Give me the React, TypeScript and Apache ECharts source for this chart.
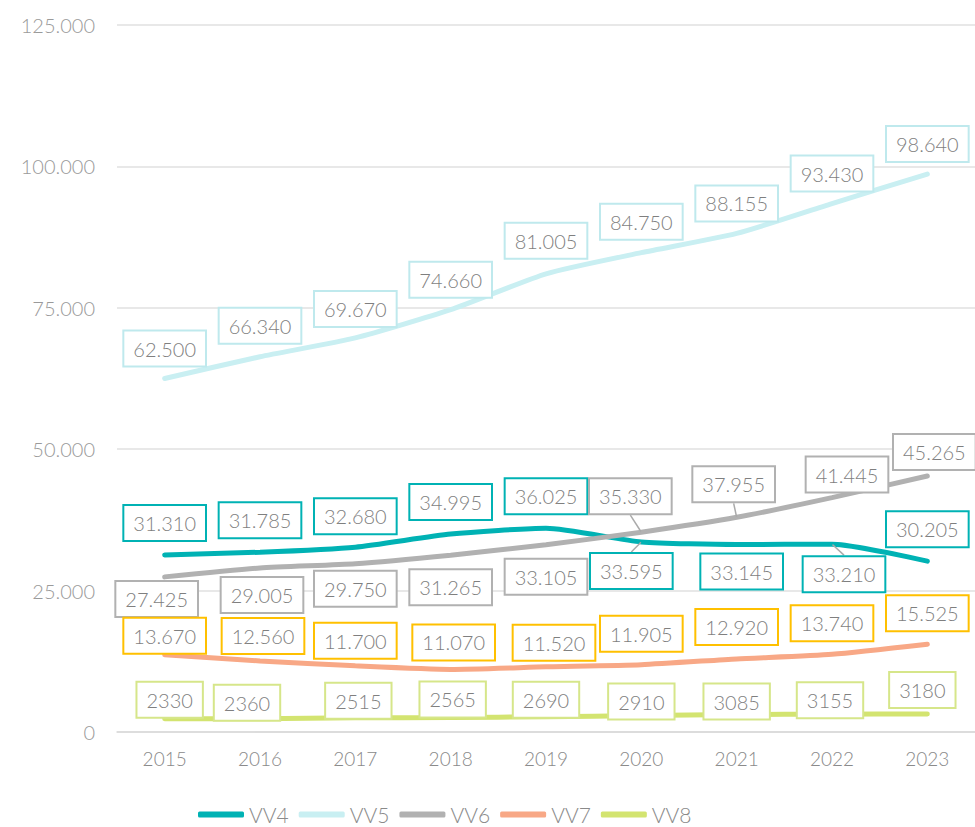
import React, { useEffect, useRef } from "react";
import * as echarts from "echarts";

const years = ["2015", "2016", "2017", "2018", "2019", "2020", "2021", "2022", "2023"];
const vv4 = [31310, 31785, 32680, 34995, 36025, 33595, 33145, 33210, 30205];
const vv5 = [62500, 66340, 69670, 74660, 81005, 84750, 88155, 93430, 98640];
const vv6 = [27425, 29005, 29750, 31265, 33105, 35330, 37955, 41445, 45265];
const vv7 = [13670, 12560, 11700, 11070, 11520, 11905, 12920, 13740, 15525];
const vv8 = [2330, 2360, 2515, 2565, 2690, 2910, 3085, 3155, 3180];
const yTicks = [0, 25000, 50000, 75000, 100000, 125000];

// label placement offsets (dx, dy) relative to each point
const off4 = [[0, -32], [0, -32], [0, -31], [0, -32], [0, -32], [-10, 29], [5, 27], [12, 30], [0, -32]];
const off5 = [[0, -30], [0, -31], [0, -29], [0, -30], [0, -33], [0, -31], [0, -30], [0, -30], [0, -30]];
const off6 = [[-8, 22], [2, 27], [0, 25], [0, 32], [0, 32], [-11, -36], [-3, -33], [15, -23], [7, -24]];
const off7 = [[0, -19], [3, -25], [0, -25], [3, -27], [8, -24], [0, -31], [0, -32], [0, -31], [0, -31]];
const off8 = [[5, -19], [-13, -16], [3, -17], [2, -18], [0, -17], [0, -14], [0, -13], [-2, -14], [-5, -24]];
const leader4 = [5, 7];
const leader6 = [5, 6];

const FONT = "Lato";

function fmt(v: number): string {
  return String(v).replace(/\B(?=(\d{3})+(?!\d))/g, ".");
}

function makeSeries(
  name: string,
  values: number[],
  color: string,
  border: string,
  offs: number[][],
  leaders: number[]
) {
  return {
    name,
    type: "line",
    smooth: 0.2,
    symbol: "circle",
    symbolSize: 1,
    showSymbol: true,
    lineStyle: { color, width: 5, cap: "round" },
    itemStyle: { color },
    data: values.map((v, i) => ({
      value: v,
      labelLine: leaders.includes(i)
        ? { show: true, lineStyle: { color: "#aaaaaa", width: 1.5 } }
        : { show: false },
    })),
    label: {
      show: true,
      position: "inside",
      formatter: (p: any) => (p.value < 10000 ? String(p.value) : fmt(p.value)),
      color: "#7f7f7f",
      fontFamily: FONT,
      fontWeight: 300,
      fontSize: 20,
      lineHeight: 22,
      backgroundColor: "#ffffff",
      borderColor: border,
      borderWidth: 2,
      padding: [6, 9],
    },
    labelLayout: (params: any) => {
      const o = offs[params.dataIndex];
      return { dx: o[0], dy: o[1], hideOverlap: false };
    },
    emphasis: { disabled: true },
  };
}

export default function App() {
  const ref = useRef<HTMLDivElement>(null);
  useEffect(() => {
    if (!ref.current) return;
    const chart = echarts.init(ref.current, undefined, { renderer: "svg" });
    chart.setOption({
      animation: false,
      backgroundColor: "#ffffff",
      grid: { left: 117, top: 25, width: 864, height: 707, containLabel: false },
      xAxis: {
        type: "category",
        data: years,
        boundaryGap: true,
        axisLine: { show: true, lineStyle: { color: "#d9d9d9", width: 1.5 } },
        axisTick: { show: false },
        axisLabel: {
          color: "#8a8a8a",
          fontFamily: FONT,
          fontWeight: 300,
          fontSize: 19,
          margin: 17,
        },
      },
      yAxis: {
        type: "value",
        min: yTicks[0],
        max: yTicks[yTicks.length - 1],
        interval: 25000,
        axisLine: { show: false },
        axisTick: { show: false },
        splitLine: { lineStyle: { color: "#e0e0e0", width: 1.5 } },
        axisLabel: {
          color: "#9a9a9a",
          fontFamily: FONT,
          fontWeight: 300,
          fontSize: 20,
          margin: 22,
          formatter: (v: number) => fmt(v),
        },
      },
      legend: {
        left: 198,
        top: 804,
        padding: 0,
        itemWidth: 46,
        itemHeight: 6,
        itemGap: 10,
        icon: "roundRect",
        textStyle: {
          color: "#8a8a8a",
          fontFamily: FONT,
          fontWeight: 300,
          fontSize: 21,
          lineHeight: 21,
        },
        data: ["VV4", "VV5", "VV6", "VV7", "VV8"],
      },
      series: [
        makeSeries("VV4", vv4, "#00b2b4", "#00b2b4", off4, leader4),
        makeSeries("VV5", vv5, "#c9eff2", "#bfe9ed", off5, []),
        makeSeries("VV6", vv6, "#b1b1b1", "#b1b1b1", off6, leader6),
        makeSeries("VV7", vv7, "#f8a886", "#ffc000", off7, []),
        makeSeries("VV8", vv8, "#d3e470", "#d6e68a", off8, []),
      ],
    });
    return () => chart.dispose();
  }, []);
  return (
    <div
      ref={ref}
      style={{ position: "absolute", left: 0, top: 0, width: 975, height: 827 }}
    />
  );
}
